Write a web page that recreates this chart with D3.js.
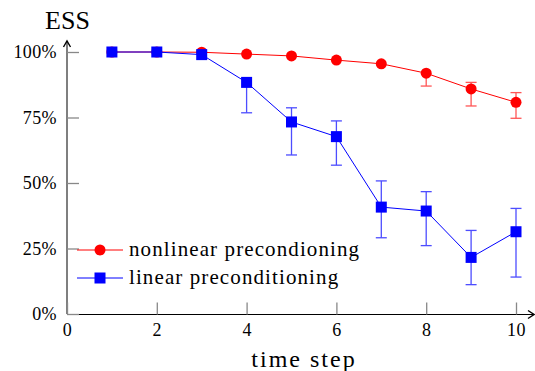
<!DOCTYPE html>
<html>
<head>
<meta charset="utf-8">
<script src="https://cdn.jsdelivr.net/npm/d3@7"></script>
<style>
  body { margin: 0; background: #fff; }
</style>
</head>
<body>
<svg id="chart" width="535" height="371"></svg>
<script>
const steps = [1, 2, 3, 4, 5, 6, 7, 8, 9, 10];

// nonlinear (red circles)
const nonlinear = [100, 100, 99.9, 99.2, 98.5, 96.9, 95.5, 91.9, 85.9, 80.8];
const nonlinearLow = [null, null, null, null, null, null, null, 87.0, 79.4, 74.7];
const nonlinearHigh = [null, null, null, null, null, null, null, null, 88.4, 84.5];

// linear (blue squares)
const linear = [100, 100, 99.0, 88.4, 73.3, 67.7, 40.8, 39.3, 21.6, 31.4];
const linearLow = [null, null, null, 76.8, 60.7, 56.8, 29.1, 26.1, 11.2, 14.1];
const linearHigh = [null, null, null, null, 78.7, 73.7, 50.8, 46.7, 31.9, 40.3];

const xTicks = [0, 2, 4, 6, 8, 10];
const yTicks = [0, 25, 50, 75, 100];
const seriesNames = ["nonlinear precondioning", "linear preconditioning"];

const FONT = "Liberation Serif";
const svg = d3.select("#chart");
const x = d3.scaleLinear().domain([0, 10]).range([67, 516]);
const y = d3.scaleLinear().domain([0, 100]).range([314, 52]);

// axes lines with arrows
svg.append("line").attr("x1", 67).attr("x2", 67).attr("y1", 314).attr("y2", 41)
    .attr("stroke", "#555").attr("stroke-width", 1.5);
svg.append("line").attr("x1", 67).attr("x2", 533).attr("y1", 314.5).attr("y2", 314.5)
    .attr("stroke", "#000").attr("stroke-width", 1);
svg.append("path").attr("d", "M63.5,47 L67,41 L70.5,47").attr("fill", "none")
    .attr("stroke", "#000").attr("stroke-width", 1.4);
svg.append("path").attr("d", "M528,310.5 L534,314.5 L528,318.5").attr("fill", "none")
    .attr("stroke", "#000").attr("stroke-width", 1.4);

// ticks
const gx = svg.append("g").attr("transform", "translate(0,314.5)")
    .call(d3.axisBottom(x).tickValues(xTicks).tickSizeInner(-12).tickSizeOuter(0).tickPadding(9));
const gy = svg.append("g").attr("transform", "translate(67,0)")
    .call(d3.axisLeft(y).tickValues(yTicks).tickFormat(d => d + "%").tickSizeInner(-12).tickSizeOuter(0).tickPadding(10));
[gx, gy].forEach(g => {
    g.attr("font-family", FONT);
    g.select(".domain").remove();
    g.selectAll(".tick line").attr("stroke", "#888").attr("stroke-width", 1.3);
    g.selectAll(".tick text").style("font-family", FONT).style("font-size", "18px")
        .attr("fill", "#000").style("letter-spacing", "0.4px");
});

// labels
svg.append("text").attr("x", 67.5).attr("y", 29).attr("text-anchor", "middle")
    .style("font-family", FONT).style("font-size", "26px").text("ESS");
svg.append("text").attr("x", 304).attr("y", 367).attr("text-anchor", "middle")
    .style("font-family", FONT).style("font-size", "24px").style("letter-spacing", "2px").text("time step");

const line = d3.line().x(d => x(d[0])).y(d => y(d[1]));

function drawSeries(values, low, high, color, barColor, marker) {
    const pts = steps.map((s, i) => [s, values[i]]);
    svg.append("path").datum(pts).attr("d", line).attr("fill", "none")
        .attr("stroke", color).attr("stroke-width", 1);
    const g = svg.append("g").attr("stroke", barColor).attr("stroke-width", 1.3);
    steps.forEach((s, i) => {
        const cx = x(s);
        [low[i], high[i]].forEach(v => {
            if (v === null) return;
            g.append("line").attr("x1", cx).attr("x2", cx)
                .attr("y1", y(values[i])).attr("y2", y(v));
            g.append("line").attr("x1", cx - 5.5).attr("x2", cx + 5.5)
                .attr("y1", y(v)).attr("y2", y(v));
        });
    });
    pts.forEach(p => marker(svg, x(p[0]), y(p[1])));
}

const circle = (g, cx, cy) => g.append("circle").attr("cx", cx).attr("cy", cy).attr("r", 5.5).attr("fill", "#ff0000");
const square = (g, cx, cy) => g.append("rect").attr("x", cx - 5.5).attr("y", cy - 5.5)
    .attr("width", 11).attr("height", 11).attr("fill", "#0000ff");

drawSeries(nonlinear, nonlinearLow, nonlinearHigh, "#ff0000", "#ff5555", circle);
drawSeries(linear, linearLow, linearHigh, "#0000ff", "#4d4dff", square);

// legend
const legend = [
    { name: seriesNames[0], color: "#ff0000", marker: circle, yy: 250 },
    { name: seriesNames[1], color: "#0000ff", marker: square, yy: 278 }
];
legend.forEach(l => {
    svg.append("line").attr("x1", 77).attr("x2", 123).attr("y1", l.yy).attr("y2", l.yy)
        .attr("stroke", l.color).attr("stroke-width", 1);
    l.marker(svg, 100, l.yy);
    svg.append("text").attr("x", 129).attr("y", l.yy + 6)
        .style("font-family", FONT).style("font-size", "21px")
        .style("letter-spacing", "1.1px").text(l.name);
});
</script>
</body>
</html>
